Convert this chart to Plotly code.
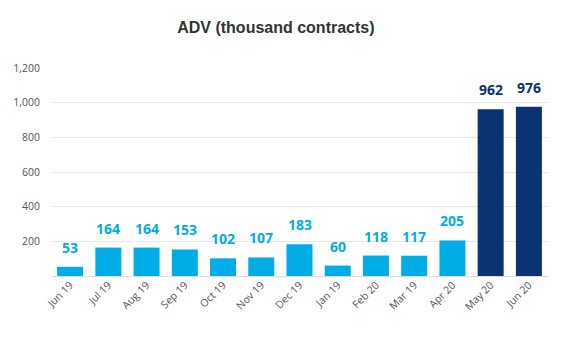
import plotly.graph_objects as go

months = ["Jun 19", "Jul 19", "Aug 19", "Sep 19", "Oct 19", "Nov 19", "Dec 19",
          "Jan 19", "Feb 20", "Mar 19", "Apr 20", "May 20", "Jun 20"]
adv = [53, 164, 164, 153, 102, 107, 183, 60, 118, 117, 205, 962, 976]
highlight = [False] * 11 + [True, True]

light = "#00ADE6"
dark = "#0B3272"
colors = [dark if h else light for h in highlight]

fig = go.Figure(go.Bar(
    x=months, y=adv,
    marker=dict(color=colors, line=dict(width=0)),
    cliponaxis=False,
))

for m, v, c in zip(months, adv, colors):
    fig.add_annotation(x=m, y=v, text=f"<b>{v}</b>", showarrow=False,
                       yanchor="bottom", yshift=8,
                       font=dict(family="Open Sans, Arial, sans-serif", size=14, color=c))

fig.update_layout(
    width=570, height=338,
    margin=dict(l=51, r=22, t=68, b=62),
    paper_bgcolor="white", plot_bgcolor="white",
    bargap=0.32,
    showlegend=False,
    title=dict(text="<b>ADV (thousand contracts)</b>", x=0.484, xref="container", xanchor="center",
               y=0.92, yref="container", yanchor="middle",
               font=dict(family="Liberation Sans, Arial, sans-serif", size=16, color="#333333")),
)
fig.update_xaxes(tickangle=-45, tickfont=dict(family="Open Sans, sans-serif", size=10.5, color="#555555"),
                 showgrid=False, showline=False, ticks="")
fig.update_yaxes(range=[0, 1200], tickvals=[200, 400, 600, 800, 1000, 1200],
                 tickformat=",", showgrid=True, gridcolor="#E9E9E9", gridwidth=1,
                 zeroline=True, zerolinecolor="#DADAE6", zerolinewidth=1,
                 tickfont=dict(family="Open Sans, sans-serif", size=10.5, color="#555555"),
                 ticks="", ticklabelstandoff=10)

fig.write_html("out.html")
